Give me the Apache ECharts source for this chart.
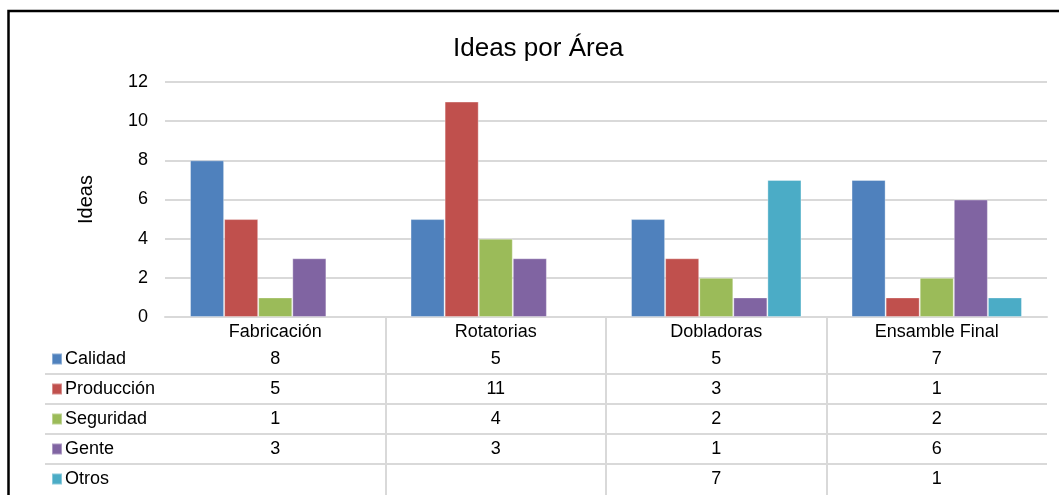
<!DOCTYPE html>
<html>
<head>
<meta charset="utf-8">
<script src="https://cdn.jsdelivr.net/npm/echarts@6/dist/echarts.min.js"></script>
<style>
html,body{margin:0;padding:0;background:#fff;}
#c{width:1059px;height:495px;}
</style>
</head>
<body>
<div id="c"></div>
<script>
const categories = ['Fabricación', 'Rotatorias', 'Dobladoras', 'Ensamble Final'];
const seriesNames = ['Calidad', 'Producción', 'Seguridad', 'Gente', 'Otros'];
const calidad = [8, 5, 5, 7];
const produccion = [5, 11, 3, 1];
const seguridad = [1, 4, 2, 2];
const gente = [3, 3, 1, 6];
const otros = [null, null, 7, 1];
const yTicks = [0, 2, 4, 6, 8, 10, 12];

const seriesValues = [calidad, produccion, seguridad, gente, otros];
const colors = ['#4F81BD', '#C0504D', '#9BBB59', '#8064A2', '#4BACC6'];
const FONT = 'Liberation Sans, Arial, sans-serif';

const chart = echarts.init(document.getElementById('c'));
const option = {
  backgroundColor: '#fff',
  animation: false,
  color: colors,
  textStyle: { fontFamily: FONT },
  title: {
    text: 'Ideas por Área',
    left: 453, top: 36, padding: 0,
    textStyle: { fontFamily: FONT, fontSize: 26, fontWeight: 'normal', color: '#000' }
  },
  legend: {
    orient: 'vertical',
    left: 51, top: 350, padding: 0,
    itemWidth: 10, itemHeight: 11, itemGap: 12,
    icon: 'rect',
    selectedMode: false,
    textStyle: { fontFamily: FONT, fontSize: 18, color: '#000', padding: [0, 0, 0, -2] },
    data: seriesNames
  },
  grid: { left: 165, right: 12, top: 82, bottom: 178, containLabel: false },
  xAxis: {
    type: 'category',
    data: categories,
    axisLine: { lineStyle: { color: '#D9D9D9', width: 2 } },
    axisTick: { show: false },
    axisLabel: { fontFamily: FONT, fontSize: 18, color: '#000', margin: 6 },
    splitLine: { show: false }
  },
  yAxis: {
    type: 'value',
    min: yTicks[0], max: yTicks[yTicks.length - 1], interval: 2,
    name: 'Ideas',
    nameLocation: 'middle',
    nameGap: 69,
    nameRotate: 90,
    nameTextStyle: { fontFamily: FONT, fontSize: 20, color: '#000' },
    axisLine: { show: false },
    axisTick: { show: false },
    axisLabel: { fontFamily: FONT, fontSize: 18, color: '#000', margin: 17 },
    splitLine: { lineStyle: { color: '#D9D9D9', width: 2 } }
  },
  series: seriesNames.map((n, i) => ({
    name: n,
    type: 'bar',
    data: seriesValues[i],
    barGap: '0%',
    barCategoryGap: '22.7%',
    itemStyle: { color: colors[i], borderColor: 'rgba(255,255,255,0.35)', borderWidth: 1 }
  }))
};
chart.setOption(option);

// Data table built from the axis positions
const centers = categories.map(c => chart.convertToPixel({ xAxisIndex: 0 }, c));
const bw = centers[1] - centers[0];
const y0 = chart.convertToPixel({ yAxisIndex: 0 }, 0);
const gridRight = centers[centers.length - 1] + bw / 2;
const rowH = 30;
const firstRowCenter = y0 + 42;
const graphics = [];

graphics.push({
  type: 'rect', z: 0, silent: true,
  shape: { x: 8.5, y: 11, width: 1200, height: 700 },
  style: { fill: 'none', stroke: '#000', lineWidth: 2.5 }
});

for (let i = 0; i < centers.length - 1; i++) {
  const x = Math.round(centers[i] + bw / 2);
  graphics.push({
    type: 'line', silent: true,
    shape: { x1: x, y1: y0, x2: x, y2: 500 },
    style: { stroke: '#D9D9D9', lineWidth: 2 }
  });
}
for (let r = 0; r < seriesNames.length - 1; r++) {
  const y = Math.round(firstRowCenter + rowH / 2 + r * rowH);
  graphics.push({
    type: 'line', silent: true,
    shape: { x1: 45, y1: y, x2: gridRight, y2: y },
    style: { stroke: '#D9D9D9', lineWidth: 2 }
  });
}
seriesValues.forEach((vals, r) => {
  vals.forEach((v, c) => {
    if (v === null || v === undefined) return;
    graphics.push({
      type: 'text', silent: true,
      x: centers[c], y: firstRowCenter + r * rowH,
      style: {
        text: String(v), fontFamily: FONT, fontSize: 18, fill: '#000',
        align: 'center', verticalAlign: 'middle'
      }
    });
  });
});
chart.setOption({ graphic: graphics });
</script>
</body>
</html>
